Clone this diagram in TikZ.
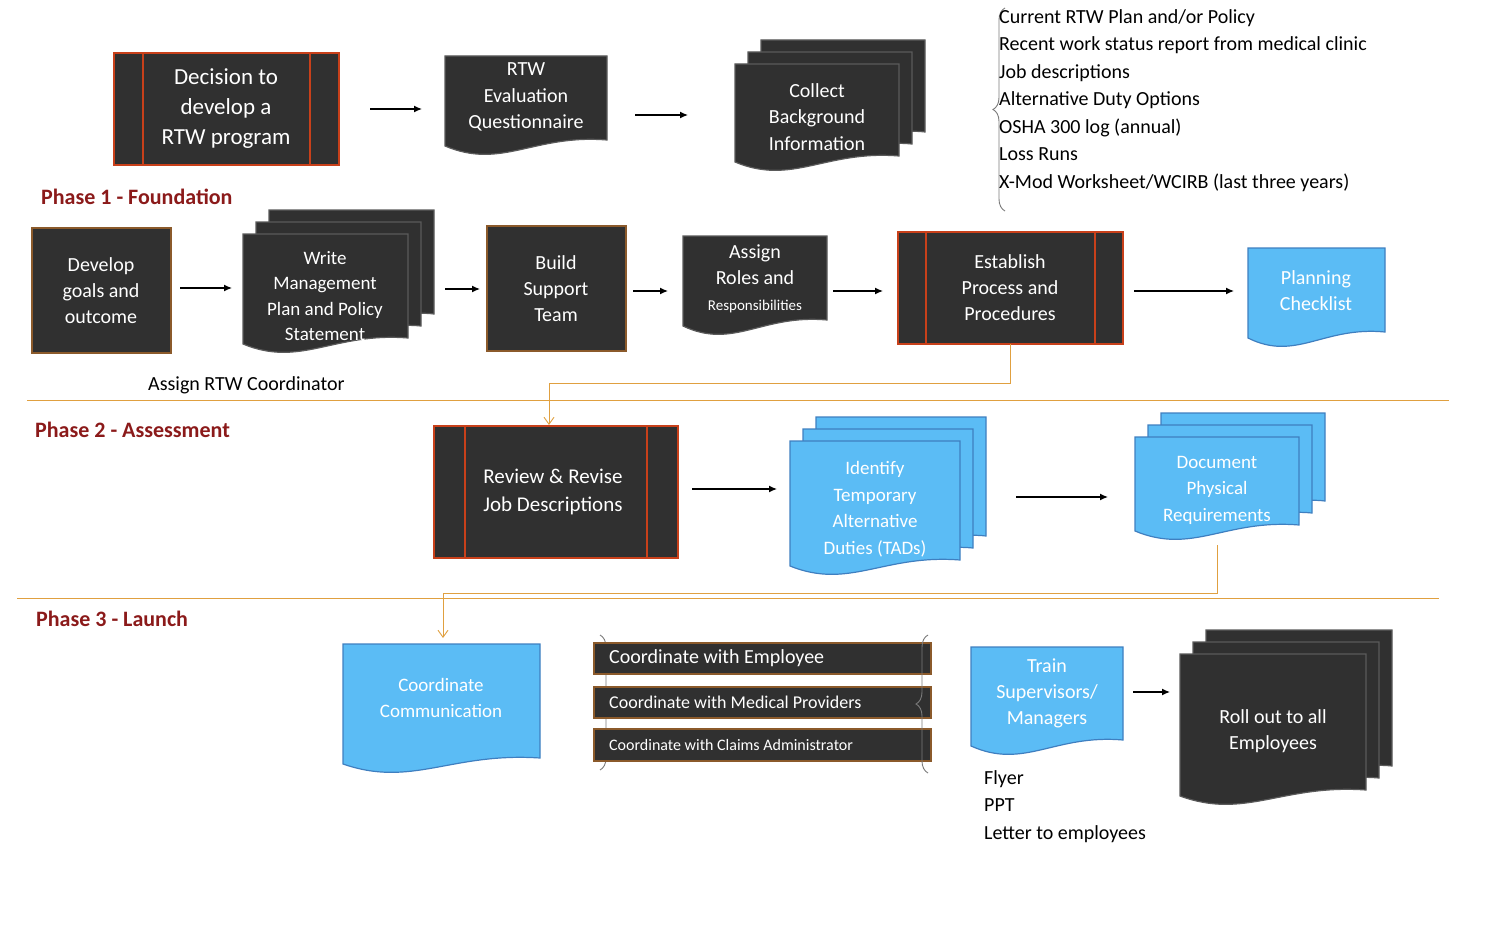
\documentclass[tikz,border=0pt]{standalone}
\usepackage{fontspec}
\setmainfont{Carlito}
\usetikzlibrary{arrows.meta,decorations.pathreplacing}
\definecolor{dk}{HTML}{303030}
\definecolor{dkb}{HTML}{5A5A5A}
\definecolor{rb}{HTML}{C8401A}
\definecolor{bb}{HTML}{8B5A2B}
\definecolor{bl}{HTML}{5BBCF5}
\definecolor{blb}{HTML}{3F7FC0}
\definecolor{ph}{HTML}{8B1A1A}
\definecolor{og}{HTML}{E0A040}
\tikzset{
 txt/.style={align=center,text=white,font=\fontsize{20}{26}\selectfont,inner sep=0},
 arr/.style={-{Latex[length=8pt,width=7pt]},line width=1.3pt},
 flow/.style={og,line width=0.9pt,-{Straight Barb[length=7pt,width=10pt]}},
 sep/.style={og,line width=0.8pt},
 phase/.style={text=ph,font=\bfseries\fontsize{22}{26}\selectfont,anchor=west,inner sep=0},
 plain/.style={font=\fontsize{20}{27.5}\selectfont,anchor=north west,align=left,inner sep=0},
 brc/.style={draw=dkb!80,line width=0.9pt,decorate,decoration={brace,amplitude=12pt}}
}
\newcommand\dpath[4]{(#1,#2) -- (#3,#2) -- (#3,#4) .. controls ({#1+0.55*(#3-#1)},{#4-6}) and ({#1+0.35*(#3-#1)},{#4+30}) .. (#1,{#4+6}) -- cycle}
\newcommand\mdoc[6]{% x1 y1 x2 yb fill draw
 \draw[fill=#5,draw=#6,line width=1.2pt] \dpath{#1+26}{#2-24}{#3+26}{#4-24};
 \draw[fill=#5,draw=#6,line width=1.2pt] \dpath{#1+13}{#2-12}{#3+13}{#4-12};
 \draw[fill=#5,draw=#6,line width=1.2pt] \dpath{#1}{#2}{#3}{#4};}
\newcommand\sdoc[6]{\draw[fill=#5,draw=#6,line width=1.2pt] \dpath{#1}{#2}{#3}{#4};}
\newcommand\pbox[5]{% x1 y1 x2 y2 inner offset
 \draw[fill=dk,draw=rb,line width=1.6pt] (#1,#2) rectangle (#3,#4);
 \draw[rb,line width=1.2pt] ({#1+#5},#2) -- ({#1+#5},#4) ({#3-#5},#2) -- ({#3-#5},#4);}
\begin{document}
\begin{tikzpicture}[x=1pt,y=-1pt]
\useasboundingbox (0,0) rectangle (1500,939);
% Row 1
\pbox{114}{53}{339}{165}{29}
\node[txt,font=\fontsize{23}{30}\selectfont] (dec) at (226,109) {Decision to\\develop a\\RTW program};
\sdoc{445}{56}{607}{140}{dk}{dkb}
\node[txt,font=\fontsize{20}{26.5}\selectfont] (eval) at (526,97) {RTW\\Evaluation\\Questionnaire};
\mdoc{735}{64}{899}{156}{dk}{dkb}
\node[txt,font=\fontsize{20}{26.5}\selectfont] (coll) at (817,117) {Collect\\Background\\Information};
\coordinate (a1s) at (370,109); \coordinate (a1e) at (422,109);
\draw[arr] (a1s) -- (a1e);
\coordinate (a2s) at (635,115); \coordinate (a2e) at (688,115);
\draw[arr] (a2s) -- (a2e);
\coordinate (bt) at (1005,8); \coordinate (bb) at (1005,211);
\draw[brc] (bb) -- (bt);
\node[plain] (list) at (999,9) {Current RTW Plan and/or Policy\\Recent work status report from medical clinic\\Job descriptions\\Alternative Duty Options\\OSHA 300 log (annual)\\Loss Runs\\X-Mod Worksheet/WCIRB (last three years)};
\node[phase] (p1) at (41,197) {Phase 1 - Foundation};
% Row 2
\draw[fill=dk,draw=bb,line width=1.6pt] (32,228) rectangle (171,353);
\node[txt] (goal) at (101,291) {Develop\\goals and\\outcome};
\mdoc{243}{234}{408}{338}{dk}{dkb}
\node[txt,font=\fontsize{19}{25.5}\selectfont] (write) at (325,296) {Write\\Management\\Plan and Policy\\Statement};
\draw[fill=dk,draw=bb,line width=1.6pt] (487,226) rectangle (626,351);
\node[txt] (build) at (556,289) {Build\\Support\\Team};
\sdoc{683}{236}{827}{320}{dk}{dkb}
\node[txt] (roles) at (755,279) {Assign\\Roles and\\{\fontsize{15}{18}\selectfont Responsibilities}};
\pbox{898}{232}{1123}{344}{28}
\node[txt] (est) at (1010,288) {Establish\\Process and\\Procedures};
\sdoc{1248}{248}{1385}{332}{bl}{blb}
\node[txt] (plan) at (1316,291) {Planning\\Checklist};
\foreach \s/\e/\y [count=\i] in {180/232/288,445/480/289,633/668/291,833/883/291,1134/1234/291}{
 \coordinate (b\i s) at (\s,\y); \coordinate (b\i e) at (\e,\y);
 \draw[arr] (b\i s) -- (b\i e);}
\node[font=\fontsize{20}{24}\selectfont,anchor=west,inner sep=0] (coord) at (148,385) {Assign RTW Coordinator};
% Phase 2
\coordinate (s1a) at (27,400); \coordinate (s1b) at (1449,400);
\draw[sep] (s1a) -- (s1b);
\node[phase] (p2) at (35,430) {Phase 2 - Assessment};
\pbox{434}{426}{678}{558}{31}
\node[txt,font=\fontsize{21}{28}\selectfont] (rev) at (553,492) {Review \& Revise\\Job Descriptions};
\coordinate (f1a) at (1010,344); \coordinate (f1b) at (1010,383); \coordinate (f1c) at (549,383); \coordinate (f1d) at (549,425);
\draw[flow] (f1a) -- (f1b) -- (f1c) -- (f1d);
\mdoc{790}{441}{960}{560}{bl}{blb}
\node[txt,font=\fontsize{19}{26.5}\selectfont] (tad) at (875,509) {Identify\\Temporary\\Alternative\\Duties (TADs)};
\mdoc{1135}{437}{1299}{525}{bl}{blb}
\node[txt,font=\fontsize{19}{26.5}\selectfont] (phys) at (1217,490) {Document\\Physical\\Requirements};
\coordinate (c1s) at (692,489); \coordinate (c1e) at (777,489);
\draw[arr] (c1s) -- (c1e);
\coordinate (c2s) at (1016,497); \coordinate (c2e) at (1108,497);
\draw[arr] (c2s) -- (c2e);
% Phase 3
\coordinate (s2a) at (17,598); \coordinate (s2b) at (1439,598);
\draw[sep] (s2a) -- (s2b);
\node[phase] (p3) at (36,619) {Phase 3 - Launch};
\coordinate (f2a) at (1217,545); \coordinate (f2b) at (1217,593); \coordinate (f2c) at (443,593); \coordinate (f2d) at (443,638);
\draw[flow] (f2a) -- (f2b) -- (f2c) -- (f2d);
\sdoc{343}{644}{540}{758}{bl}{blb}
\node[txt,font=\fontsize{19}{26}\selectfont] (comm) at (441,698) {Coordinate\\Communication};
\coordinate (lb1) at (600,635); \coordinate (lb2) at (600,770);
\draw[brc] (lb1) -- (lb2);
\foreach \ya/\yb/\t/\fs [count=\i] in {643/674/Coordinate with Employee/20,687/718/Coordinate with Medical Providers/18,729/761/Coordinate with Claims Administrator/16}{
 \draw[fill=dk,draw=bb,line width=1.6pt] (594,\ya) rectangle (931,\yb);
 \node[text=white,font=\fontsize{\fs}{20}\selectfont,anchor=west,inner sep=0] (cw\i) at (609,{(\ya+\yb)/2}) {\t};}
\coordinate (rb1) at (928,635); \coordinate (rb2) at (928,773);
\draw[brc] (rb2) -- (rb1);
\sdoc{971}{647}{1123}{740}{bl}{blb}
\node[txt] (train) at (1047,693) {Train\\Supervisors/\\Managers};
\coordinate (d1s) at (1133,692); \coordinate (d1e) at (1170,692);
\draw[arr] (d1s) -- (d1e);
\mdoc{1180}{654}{1366}{790}{dk}{dkb}
\node[txt] (roll) at (1273,731) {Roll out to all\\Employees};
\node[plain,font=\fontsize{20}{27.5}\selectfont] (fly) at (984,770) {Flyer\\PPT\\Letter to employees};
\end{tikzpicture}
\end{document}
